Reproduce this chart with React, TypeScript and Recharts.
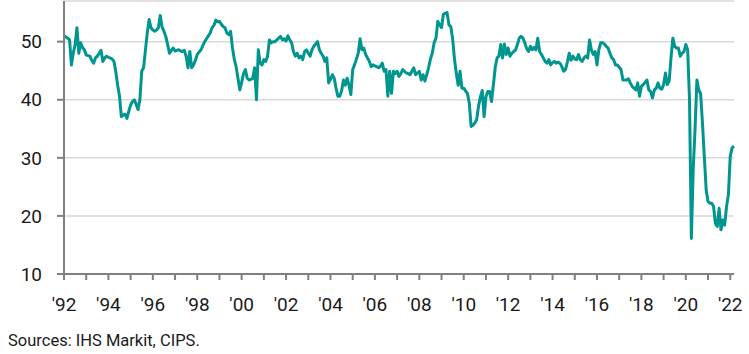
import { LineChart, Line, XAxis, YAxis, CartesianGrid } from 'recharts';

// monthly index values, Jan 1992 onwards
const pmi1992to1996 = [
  51, 50.8, 50.6, 50.3, 46, 48, 49.5, 52.4, 48, 49.8, 49, 48.6,
  47.7, 47.6, 47.5, 46.8, 46.3, 47.2, 47.5, 48, 48.5, 46.6, 47.2, 47.5,
  47.3, 47.2, 47, 46.6, 44.8, 42.5, 40.6, 37.1, 37.4, 37.5, 36.8, 38,
  39.1, 39.7, 40, 39.2, 38.3, 40, 44.9, 45.5, 48.5, 51.5, 53.8, 52.4,
  52, 51.8, 52, 52.4, 54.5, 52.5, 51.8, 50.9, 49.5, 48, 48.5, 48.9,
];
const pmi1997to2001 = [
  48.4, 48.5, 48.6, 48.4, 48.3, 48.5, 47.5, 45.5, 48.3, 45.5, 46, 46.8,
  47.8, 48.2, 48.6, 49.3, 50, 50.5, 51, 51.5, 52.4, 52.8, 53.7, 53.4,
  53.5, 53, 52.6, 52.4, 51.5, 51.2, 51.8, 49, 47, 45.7, 43.7, 41.7,
  43, 44.5, 45.2, 43.7, 43.4, 43.5, 43.7, 45.5, 40, 48.6, 46.3, 46,
  46.9, 46.6, 47.5, 50.3, 49.8, 50, 50, 50.3, 50.6, 50.9, 50.3, 50.5,
];
const pmi2002to2006 = [
  50.1, 51, 50.3, 49.8, 48.3, 47.5, 48, 47.2, 47.5, 46.9, 48.3, 48.6,
  48, 47.5, 48.6, 49.2, 49.6, 50, 48.6, 48, 47.5, 46.6, 47.2, 42.9,
  43.5, 44.3, 43.7, 42, 40.6, 40.6, 41.5, 43.4, 42.5, 43.7, 42.5, 40.9,
  45.2, 46, 47, 48, 50.5, 48.6, 48.9, 47.8, 47.2, 46.6, 45.7, 46,
  45.8, 45.7, 45.5, 45.8, 46.3, 44.9, 45.2, 40.6, 44.9, 41.1, 44.9, 44.5,
];
const pmi2007to2011 = [
  44.9, 44, 44.5, 45.2, 44.9, 44.6, 44.5, 44.3, 44.9, 45.5, 44.3, 44.6,
  44.9, 43.4, 44.3, 43.2, 44.3, 45.5, 47, 48, 49.8, 50.6, 53.5, 52.9,
  52.4, 54.7, 54.9, 55, 52.9, 52.6, 50.5, 47, 44.5, 42.5, 44.9, 42,
  42, 41.5, 41.1, 39.4, 35.4, 35.6, 36, 36.6, 38.9, 40.5, 41.6, 37.1,
  40.5, 41.4, 41.4, 39.7, 42.5, 45.5, 47.2, 47.5, 49.5, 47.2, 49.6, 47.8,
];
const pmi2012to2016 = [
  48.9, 47.5, 48, 48.3, 48.6, 49.5, 50.6, 50.9, 50.6, 49.8, 48.8, 48.3,
  49.2, 48.6, 49, 48.6, 50.6, 48.3, 47.8, 47.2, 46.6, 46.3, 46.9, 46,
  46.4, 46.6, 46.3, 46.5, 46.3, 45.7, 44.9, 45.2, 46.5, 48, 46.8, 47.5,
  47, 46.9, 47.8, 46.9, 46.6, 47.2, 47.5, 47.2, 50.3, 48.5, 47.8, 48.3,
  46, 48.6, 49.8, 49.8, 49.6, 49.2, 48.9, 48, 47.2, 46.9, 46, 46,
];
const pmi2017to2022 = [
  45.6, 45.2, 43.4, 43.4, 43.4, 43.6, 42.9, 42.3, 42, 41.7, 42.9, 40.6,
  42.3, 42.6, 43, 43.4, 41.7, 41.4, 40.3, 41.7, 42, 42.9, 42, 41.8,
  42.6, 44.6, 42.6, 43.2, 47.2, 50.6, 49.2, 48.9, 48.9, 47.5, 48, 48.3,
  49.5, 48.6, 40, 16.1, 28, 35, 43.4, 41.7, 41, 36, 30.2, 24.5,
  22.5, 22.2, 22.2, 21.6, 18.7, 18.2, 21.3, 17.6, 19.3, 18.4, 21.6, 23.6,
  30.2, 31.7, 32,
];

const yearTicks = [
  1992, 1993, 1994, 1995, 1996, 1997, 1998, 1999, 2000, 2001, 2002,
  2003, 2004, 2005, 2006, 2007, 2008, 2009, 2010, 2011, 2012, 2013,
  2014, 2015, 2016, 2017, 2018, 2019, 2020, 2021, 2022,
];
const valueTicks = [10, 20, 30, 40, 50];

const allValues = [
  ...pmi1992to1996,
  ...pmi1997to2001,
  ...pmi2002to2006,
  ...pmi2007to2011,
  ...pmi2012to2016,
  ...pmi2017to2022,
];
const data = allValues.map((v, i) => ({ t: 1992 + i / 12, value: v }));

const textColor = '#1a1a1a';
const axisColor = '#808080';

export default function App() {
  return (
    <div
      style={{
        position: 'absolute',
        left: 0,
        top: 0,
        width: 749,
        height: 354,
        background: '#fff',
        fontFamily: 'Roboto, sans-serif',
      }}
    >
      <LineChart width={749} height={320} data={data} margin={{ top: 1, right: 15, bottom: 0, left: 0 }}>
        <CartesianGrid vertical={false} stroke="#d9d9d9" strokeWidth={1.5} />
        <XAxis
          dataKey="t"
          type="number"
          domain={[1992, 2022.17]}
          ticks={yearTicks}
          interval={0}
          tickFormatter={(y: number) => (y % 2 === 0 ? "'" + String(y).slice(2) : '')}
          stroke={axisColor}
          strokeWidth={2}
          tickSize={6}
          tickMargin={18}
          height={46}
          tick={{ fill: textColor, fontSize: 19 }}
        />
        <YAxis
          type="number"
          domain={[10, 57]}
          ticks={valueTicks}
          interval={0}
          stroke={axisColor}
          strokeWidth={2}
          tickSize={7}
          tickMargin={15}
          width={64}
          tick={{ fill: textColor, fontSize: 19 }}
        />
        <Line
          type="linear"
          dataKey="value"
          stroke="#00968f"
          strokeWidth={3}
          strokeLinejoin="round"
          dot={false}
          isAnimationActive={false}
        />
      </LineChart>
      <div style={{ position: 'absolute', left: 8, top: 331, fontSize: 16.5, color: textColor }}>
        Sources: IHS Markit, CIPS.
      </div>
    </div>
  );
}
